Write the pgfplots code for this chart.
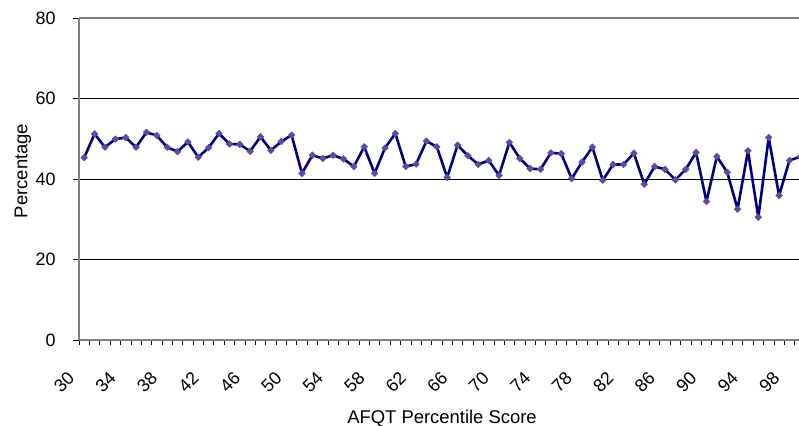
\documentclass[border=0pt]{standalone}
\usepackage{fontspec}
\setmainfont{Liberation Sans}
\usepackage{pgfplots}
\pgfplotsset{compat=1.18}

\definecolor{navyline}{HTML}{000080}
\definecolor{markfill}{HTML}{5B4C9E}
\definecolor{axisgray}{HTML}{808080}

\pgfplotstableread{
score pct
30 45.3
31 51.2
32 47.9
33 49.9
34 50.3
35 47.9
36 51.6
37 50.8
38 47.9
39 46.8
40 49.2
41 45.4
42 47.8
43 51.3
44 48.7
45 48.6
46 46.9
47 50.5
48 47.1
49 49.3
50 50.9
51 41.4
52 45.9
53 45.1
54 45.9
55 45.0
56 43.1
57 48.0
58 41.4
59 47.7
60 51.3
61 43.1
62 43.7
63 49.4
64 48.0
65 40.4
66 48.4
67 45.8
68 43.6
69 44.6
70 40.9
71 49.1
72 45.1
73 42.6
74 42.4
75 46.5
76 46.3
77 40.1
78 44.2
79 47.9
80 39.7
81 43.6
82 43.6
83 46.4
84 38.7
85 43.1
86 42.4
87 39.8
88 42.4
89 46.6
90 34.4
91 45.6
92 41.7
93 32.5
94 47.0
95 30.5
96 50.3
97 35.9
98 44.6
99 45.5
}\afqt

\begin{document}
\fontsize{18.5}{22}\selectfont
\begin{tikzpicture}
\begin{axis}[
    at={(79bp,86bp)}, anchor=south west,
    scale only axis,
    width=726bp, height=322bp,
    xmin=29.5, xmax=99.5,
    ymin=0, ymax=80,
    axis x line*=bottom,
    axis y line*=left,
    axis line style={axisgray, line width=1.5bp},
    xtick={30,34,...,98},
    minor xtick={29.5,30.5,...,99.5},
    ytick={0,20,...,80},
    tick align=outside,
    major tick length=6bp,
    minor tick length=5bp,
    x tick style={draw=none},
    minor x tick style={draw=black, line width=0.7bp},
    y tick style={black, line width=0.8bp},
    ymajorgrids,
    major grid style={black, line width=0.9bp},
    /pgf/number format/assume math mode=true,
    tick label style={font=\fontsize{18}{22}\selectfont},
    yticklabel style={anchor=east, xshift=-11bp},
    xticklabel style={xshift=-13bp, yshift=-29bp, rotate=45, anchor=east, inner sep=0pt},
    xlabel={AFQT Percentile Score},
    ylabel={Percentage},
    xlabel style={at={(axis description cs:0.5,-0.258)}, anchor=base},
    ylabel style={at={(axis description cs:-0.0771,0.525)}, anchor=center},
    clip=false,
]
\addplot[navyline, line width=2.6bp, line join=round, mark=square*,
    mark size=2.4bp,
    mark options={rotate=45, fill=markfill, draw=markfill, line width=0.4bp}]
    table[x=score, y=pct] {\afqt};
\draw[axisgray, line width=1.5bp] (rel axis cs:0,1) -- (rel axis cs:1,1);
\end{axis}
\pgfresetboundingbox
\useasboundingbox (0,0) rectangle (799bp,426bp);
\end{tikzpicture}
\end{document}
